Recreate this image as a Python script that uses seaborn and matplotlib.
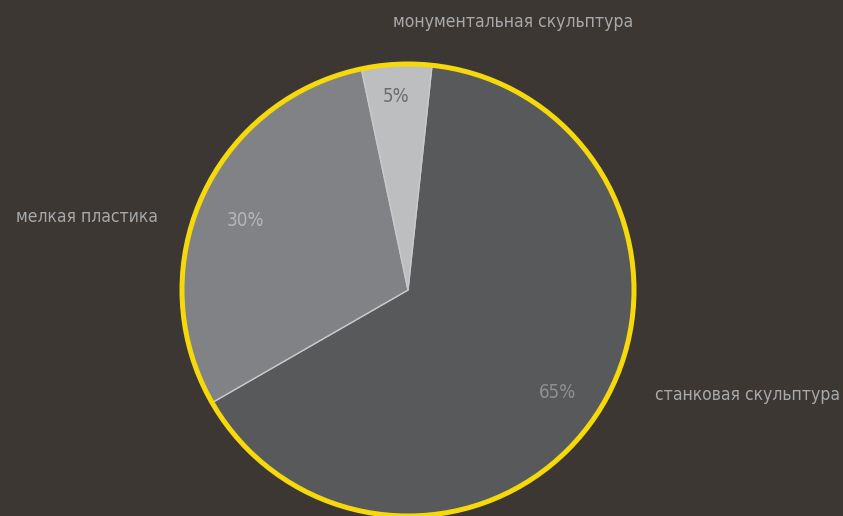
import matplotlib
matplotlib.use("Agg")
import matplotlib.pyplot as plt
import seaborn as sns
from matplotlib.patches import Circle

categories = ["станковая скульптура", "мелкая пластика", "монументальная скульптура"]
values = [65, 30, 5]
pct_labels = ["65%", "30%", "5%"]

sns.set_theme(style="white")
plt.rcParams['font.family'] = ['DejaVu Sans']
plt.rcParams['font.stretch'] = 'condensed'

bg = "#3d3734"
colors = ["#58595b", "#808285", "#bcbec0"]
pct_colors = ["#8f9093", "#b5b7b9", "#6a6b6d"]
label_color = "#a7a9ab"

W, H = 843, 516
fig = plt.figure(figsize=(W / 100, H / 100), dpi=100, facecolor=bg)
ax = fig.add_axes([0, 0, 1, 1])
ax.set_facecolor(bg)

cx, cy, r = 408, H - 290, 226
wedges, _ = ax.pie(values, colors=colors, startangle=83.9, counterclock=False,
                   radius=r, center=(cx, cy),
                   wedgeprops=dict(edgecolor="#c8c9cb", linewidth=1.0))
ax.add_patch(Circle((cx, cy), r, fill=False, edgecolor="#f5d90a", linewidth=3.6, zorder=5))

pct_pos = [(557, 393), (245, 221), (396, 96)]
for (x, y), t, c in zip(pct_pos, pct_labels, pct_colors):
    ax.text(x, H - y, t, color=c, fontsize=13.5, ha="center", va="center",
            fontstretch="condensed")

label_pos = [(655, 395, "left"), (158, 217, "right"), (513, 22, "center")]
for (x, y, ha), t in zip(label_pos, categories):
    ax.text(x, H - y, t, color=label_color, fontsize=12.6, ha=ha, va="center",
            fontstretch="condensed")

ax.set_xlim(0, W)
ax.set_ylim(0, H)
ax.set_aspect("equal")
ax.axis("off")
fig.savefig("out.png", dpi=100, facecolor=bg)
